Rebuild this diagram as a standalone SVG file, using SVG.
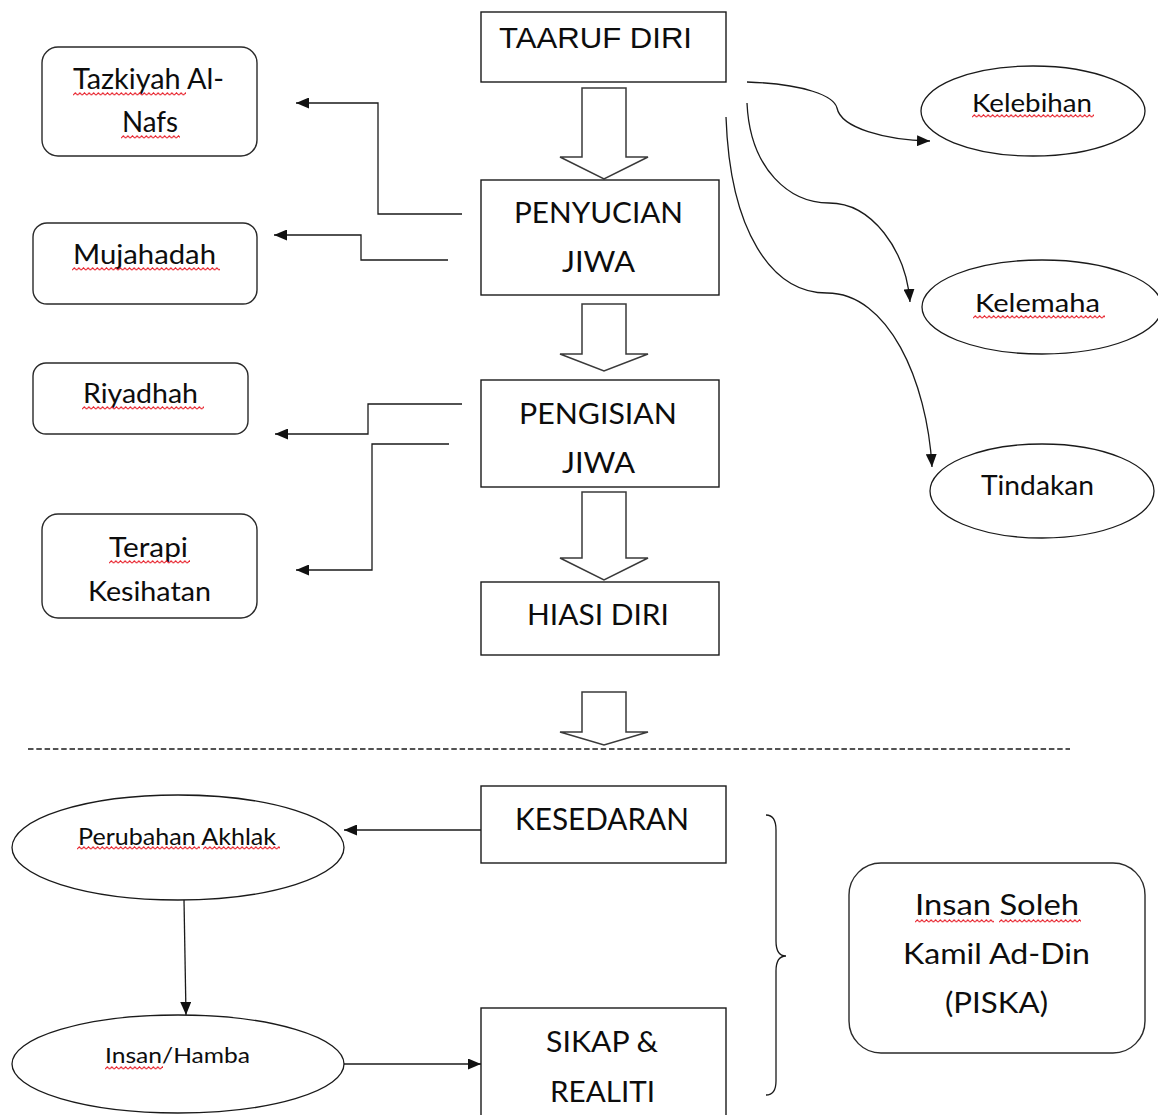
<svg xmlns="http://www.w3.org/2000/svg" width="1158" height="1115" viewBox="0 0 1158 1115">
<style>
.box{fill:#fff;stroke:#1a1a1a;stroke-width:1.4}
.rbox{fill:#fff;stroke:#2a2a2a;stroke-width:1.4}
.ell{fill:#fff;stroke:#1a1a1a;stroke-width:1.3}
.blk{fill:#fff;stroke:#3a3a3a;stroke-width:1.5;stroke-linejoin:miter}
.ln{fill:none;stroke:#1a1a1a;stroke-width:1.3}
.t{font-family:Lato,"Open Sans","Liberation Sans",sans-serif;fill:#0d0d0d}
.ta{font-family:"Liberation Sans",Arial,sans-serif;fill:#0d0d0d}
.dash{stroke:#1a1a1a;stroke-width:1.3;stroke-dasharray:5.5 2.8;fill:none}
</style>
<defs>
<marker id="ah" markerUnits="userSpaceOnUse" markerWidth="13" markerHeight="11" viewBox="0 0 13 11" refX="13" refY="5.5" orient="auto">
<path d="M0,0 L13,5.5 L0,11 z" fill="#111"/>
</marker>
<pattern id="sq" width="4.6" height="4" patternUnits="userSpaceOnUse">
<path d="M0,3.2 L2.3,0.8 L4.6,3.2" fill="none" stroke="#e8202a" stroke-width="1.1"/>
</pattern>
</defs>
<rect width="1158" height="1115" fill="#fff"/>

<g id="connectors">
<polygon class="blk" points="582,88 626,88 626,157 648,157 604,179 560,157 582,157"/>
<polygon class="blk" points="582,304 626,304 626,354 648,354 604,371 560,354 582,354"/>
<polygon class="blk" points="582,492 626,492 626,558 648,558 604,580 560,558 582,558"/>
<polygon class="blk" points="582,692 626,692 626,732 648,732 604,745 560,732 582,732"/>
<path class="ln" d="M462,214 H378 V103 H296" marker-end="url(#ah)"/>
<path class="ln" d="M448,260 H361 V235 H274" marker-end="url(#ah)"/>
<path class="ln" d="M462,404 H368 V434 H275" marker-end="url(#ah)"/>
<path class="ln" d="M449,444 H372 V570 H296" marker-end="url(#ah)"/>
<path class="ln" d="M747,82 C805,84 834,96 837,108 C841,128 885,140 930,141" marker-end="url(#ah)"/>
<path class="ln" d="M747,103 C750,170 790,203 829,203 C872,203 906,250 910,302" marker-end="url(#ah)"/>
<path class="ln" d="M726,117 C730,232 772,293 827,293 C888,293 927,380 932,467" marker-end="url(#ah)"/>
<path class="ln" d="M481,830 H344" marker-end="url(#ah)"/>
<path class="ln" d="M184,900 L186,1015" marker-end="url(#ah)"/>
<path class="ln" d="M344,1064 H481" marker-end="url(#ah)"/>
<path class="ln" d="M766,815 Q776,815 776,830 L776,941 Q776,956 786,956 Q776,956 776,971 L776,1081 Q776,1095 766,1095"/>
<line class="dash" x1="28" y1="749" x2="1070" y2="749"/>
</g>

<g id="taaruf">
<rect class="box" x="481" y="12" width="245" height="70"/>
<text class="ta" x="499" y="48" font-size="29" textLength="193" lengthAdjust="spacingAndGlyphs">TAARUF DIRI</text>
</g>
<g id="penyucian">
<rect class="box" x="481" y="180" width="238" height="115"/>
<text class="t" x="514" y="223" font-size="29" textLength="169" lengthAdjust="spacingAndGlyphs">PENYUCIAN</text>
<text class="t" x="562" y="272" font-size="29" textLength="73" lengthAdjust="spacingAndGlyphs">JIWA</text>
</g>
<g id="pengisian">
<rect class="box" x="481" y="380" width="238" height="107"/>
<text class="t" x="519" y="424" font-size="29" textLength="158" lengthAdjust="spacingAndGlyphs">PENGISIAN</text>
<text class="t" x="562" y="473" font-size="29" textLength="73" lengthAdjust="spacingAndGlyphs">JIWA</text>
</g>
<g id="hiasi">
<rect class="box" x="481" y="582" width="238" height="73"/>
<text class="t" x="527" y="625" font-size="29" textLength="142" lengthAdjust="spacingAndGlyphs">HIASI DIRI</text>
</g>
<g id="tazkiyah">
<rect class="rbox" x="42" y="47" width="215" height="109" rx="16"/>
<text class="t" x="73" y="89" font-size="29" textLength="151" lengthAdjust="spacingAndGlyphs">Tazkiyah Al-</text>
<text class="t" x="122" y="132" font-size="29" textLength="56" lengthAdjust="spacingAndGlyphs">Nafs</text>
<rect transform="translate(73,92)" width="113" height="4" fill="url(#sq)"/>
<rect transform="translate(121,135)" width="59" height="4" fill="url(#sq)"/>
</g>
<g id="mujahadah">
<rect class="rbox" x="33" y="223" width="224" height="81" rx="14"/>
<text class="t" x="73" y="264" font-size="26" textLength="143" lengthAdjust="spacingAndGlyphs">Mujahadah</text>
<rect transform="translate(72,267)" width="148" height="4" fill="url(#sq)"/>
</g>
<g id="riyadhah">
<rect class="rbox" x="33" y="363" width="215" height="71" rx="13"/>
<text class="t" x="83" y="403" font-size="26" textLength="115" lengthAdjust="spacingAndGlyphs">Riyadhah</text>
<rect transform="translate(82,406)" width="122" height="4" fill="url(#sq)"/>
</g>
<g id="terapi">
<rect class="rbox" x="42" y="514" width="215" height="104" rx="16"/>
<text class="t" x="109" y="557" font-size="27" textLength="79" lengthAdjust="spacingAndGlyphs">Terapi</text>
<text class="t" x="88" y="601" font-size="26" textLength="123" lengthAdjust="spacingAndGlyphs">Kesihatan</text>
<rect transform="translate(109,560)" width="81" height="4" fill="url(#sq)"/>
</g>
<g id="kelebihan">
<ellipse class="ell" cx="1033" cy="111" rx="112" ry="45"/>
<text class="t" x="972" y="112" font-size="25" textLength="120" lengthAdjust="spacingAndGlyphs">Kelebihan</text>
<rect transform="translate(972,114)" width="122" height="4" fill="url(#sq)"/>
</g>
<g id="kelemaha">
<ellipse class="ell" cx="1042" cy="307" rx="120" ry="47"/>
<text class="t" x="975" y="312" font-size="25" textLength="125" lengthAdjust="spacingAndGlyphs">Kelemaha</text>
<rect transform="translate(973,315)" width="132" height="4" fill="url(#sq)"/>
</g>
<g id="tindakan">
<ellipse class="ell" cx="1042" cy="491" rx="112" ry="47"/>
<text class="t" x="981" y="495" font-size="26" textLength="113" lengthAdjust="spacingAndGlyphs">Tindakan</text>
</g>
<g id="kesedaran">
<rect class="box" x="481" y="786" width="245" height="77"/>
<text class="t" x="515" y="830" font-size="30" textLength="174" lengthAdjust="spacingAndGlyphs">KESEDARAN</text>
</g>
<g id="sikap">
<rect class="box" x="481" y="1008" width="245" height="120"/>
<text class="t" x="546" y="1052" font-size="29" textLength="112" lengthAdjust="spacingAndGlyphs">SIKAP &amp;</text>
<text class="t" x="550" y="1102" font-size="29" textLength="105" lengthAdjust="spacingAndGlyphs">REALITI</text>
</g>
<g id="perubahan">
<ellipse class="ell" cx="178" cy="847.5" rx="166" ry="52.5"/>
<text class="t" x="78" y="845" font-size="24" textLength="198" lengthAdjust="spacingAndGlyphs">Perubahan Akhlak</text>
<rect transform="translate(77,846)" width="123" height="4" fill="url(#sq)"/>
<rect transform="translate(203,846)" width="77" height="4" fill="url(#sq)"/>
</g>
<g id="insan-hamba">
<ellipse class="ell" cx="178" cy="1064" rx="166" ry="49"/>
<text class="t" x="105" y="1063" font-size="21" textLength="145" lengthAdjust="spacingAndGlyphs">Insan/Hamba</text>
<rect transform="translate(105,1066)" width="58" height="4" fill="url(#sq)"/>
</g>
<g id="piska">
<rect class="rbox" x="849" y="863" width="296" height="190" rx="32"/>
<text class="t" x="915" y="915" font-size="29" textLength="164" lengthAdjust="spacingAndGlyphs">Insan Soleh</text>
<text class="t" x="903" y="964" font-size="29" textLength="187" lengthAdjust="spacingAndGlyphs">Kamil Ad-Din</text>
<text class="t" x="945" y="1013" font-size="29" textLength="103" lengthAdjust="spacingAndGlyphs">(PISKA)</text>
<rect transform="translate(915,919)" width="79" height="4" fill="url(#sq)"/>
<rect transform="translate(999,919)" width="82" height="4" fill="url(#sq)"/>
</g>
</svg>
